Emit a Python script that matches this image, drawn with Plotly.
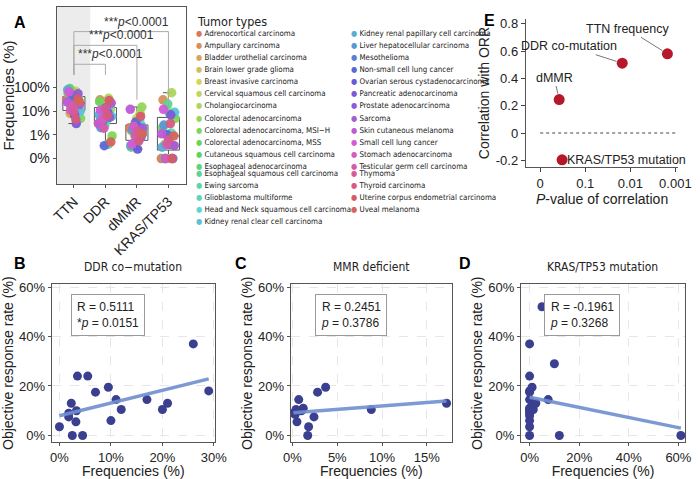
import numpy as np
import plotly.graph_objects as go
import colorsys

# ---- Panel A data (percent frequencies per tumor type) ----
tumor_types = [
    'Adrenocortical carcinoma', 'Ampullary carcinoma', 'Bladder urothelial carcinoma',
    'Brain lower grade glioma', 'Breast invasive carcinoma', 'Cervical squamous cell carcinoma',
    'Cholangiocarcinoma', 'Colorectal adenocarcinoma', 'Colorectal adenocarcinoma, MSI\u2212H',
    'Colorectal adenocarcinoma, MSS', 'Cutaneous squamous cell carcinoma', 'Esophageal adenocarcinoma',
    'Esophageal squamous cell carcinoma', 'Ewing sarcoma', 'Glioblastoma multiforme',
    'Head and Neck squamous cell carcinoma', 'Kidney renal clear cell carcinoma',
    'Kidney renal papillary cell carcinoma', 'Liver hepatocellular carcinoma', 'Mesothelioma',
    'Non-small cell lung cancer', 'Ovarian serous cystadenocarcinoma', 'Pancreatic adenocarcinoma',
    'Prostate adenocarcinoma', 'Sarcoma', 'Skin cutaneous melanoma', 'Small cell lung cancer',
    'Stomach adenocarcinoma', 'Testicular germ cell carcinoma', 'Thymoma', 'Thyroid carcinoma',
    'Uterine corpus endometrial carcinoma', 'Uveal melanoma']
groups = ['TTN', 'DDR', 'dMMR', 'KRAS/TP53']
freq_ttn = [30, 50, 8, 15, 20, 70, 25, 12, 5, 60, 90, 40, 18, 22, 6, 35, 10, 80, 28, 14, 45, 7, 3, 55,
            19, 24, 65, 11, 16, 9, 4.5, 33, 26]
freq_ddr = [3, 30, 8, 15, 6, 20, 35, 12, 0.9, 25, 5, 10, 2.5, 4, 0.4, 18, 6, 7, 2, 3.5, 0.35, 14, 9,
            5.5, 22, 3, 11, 4.5, 1.9, 13, 6.5, 28, 0.5]
freq_dmmr = [2, 1.5, 0.4, 3, 5, 0.6, 8, 15, 1.8, 0.3, 2.2, 1, 0.5, 0.7, 4, 2.5, 1.2, 0.35, 1.7, 0.45,
             3.5, 0.25, 2, 0.8, 1.9, 12, 0.4, 2.3, 0.9, 1.4, 0.55, 6, 1.1]
freq_kras = [0, 30, 0.4, 1, 10, 0, 60, 0.35, 5, 2, 0, 0.4, 20, 8, 1.2, 0, 9, 0.3, 2.6, 0, 1, 0.4, 7,
             0, 0.35, 1.1, 12, 0, 0.4, 0.6, 3, 0, 0.9]
freq_ticks = ['0%', '1%', '10%', '100%']

# ---- Panel B-D data: (frequency %, ORR %) ----
ddr_x = [0, 1.8, 1.8, 2.3, 2.5, 3.2, 3.3, 3.5, 4.5, 5.5, 7, 9.5, 10, 11, 12, 17, 20, 21, 26, 29]
ddr_y = [3.5, 7.5, 9, 13, 0, 5.5, 10, 24, 0, 24, 17.5, 19.5, 6, 14.5, 10.5, 14.5, 10.5, 13, 37, 18]
mmr_x = [0.1, 0.3, 0.4, 0.5, 0.7, 1.0, 1.2, 1.7, 1.8, 2.4, 2.8, 3.7, 8.8, 17.2]
mmr_y = [9, 8.5, 10.5, 5.5, 14.5, 10, 11, 0, 3.5, 7.5, 17.5, 19.5, 10.5, 13]
kras_x = [0, 0, 0, 0, 0, 0, 0, 0, 0, 0, 0, 0, 0, 1, 1, 1.5, 2.5, 5, 7.5, 10, 12, 61]
kras_y = [0, 3.5, 6, 8, 9, 10, 10.5, 11, 14.5, 17.5, 18, 24, 37, 19.5, 12, 10.5, 13, 52, 14.5, 29, 0, 0]

# ---- Panel E data ----
e_labels = ['TTN frequency', 'DDR co-mutation', 'dMMR', 'KRAS/TP53 mutation']
e_pval = [0.0015, 0.0151, 0.3786, 0.3268]
e_corr = [0.58, 0.5111, 0.2451, -0.1961]

FONT = 'Liberation Sans'
NARROW = 'Liberation Sans Narrow, DejaVu Sans Condensed, Liberation Sans'
dot = '#3b3f8f'
line_c = '#6f8fd0'

n = len(tumor_types)
colors = []
for i in range(n):
    h = (15 + 360 * i / n) % 360 / 360
    r, g, b = colorsys.hls_to_rgb(h, 0.6, 0.6)
    colors.append('rgb(%d,%d,%d)' % (r * 255, g * 255, b * 255))


def tr(v):
    return np.log10(v) if v > 0 else -1.0


def px(x0, x1):
    return [x0 / 700, x1 / 700]


def py(top, bot):
    return [1 - bot / 479, 1 - top / 479]


fig = go.Figure()

# Panel A boxes + jittered points
all_freqs = [freq_ttn, freq_ddr, freq_dmmr, freq_kras]
for gi, (g, vals) in enumerate(zip(groups, all_freqs)):
    tv = [tr(v) for v in vals]
    fig.add_trace(go.Box(x=[gi] * len(tv), y=tv, width=0.7, fillcolor='white',
                         line=dict(color='#555', width=1), boxpoints=False,
                         xaxis='x', yaxis='y', showlegend=False))
for gi, vals in enumerate(all_freqs):
    jit = [gi + (((i * 37) % n) / n - 0.5) * 0.45 for i in range(n)]
    fig.add_trace(go.Scatter(x=jit, y=[tr(v) for v in vals], mode='markers',
                             marker=dict(color=colors, size=9.5, opacity=0.95),
                             xaxis='x', yaxis='y', showlegend=False))

shapes = [dict(type='rect', xref='x', yref='y', x0=-0.55, x1=0.52, y0=-2.08, y1=5.4,
               fillcolor='#ececec', line_width=0, layer='below')]
brackets = [(1, 2.98, 2.53), (2, 3.78, 1.48), (3, 4.36, 1.36)]
annotations = []
lab_x = [0.06, 0.43, 0.89]
for (gx, ylev, ybot), lx in zip(brackets, lab_x):
    for x0, y0, x1, y1 in [(0, 2.53, 0, ylev), (0, ylev, gx, ylev), (gx, ylev, gx, ybot)]:
        shapes.append(dict(type='line', xref='x', yref='y', x0=x0, y0=y0, x1=x1, y1=y1,
                           line=dict(color='#aaa', width=1)))
    annotations.append(dict(x=lx, y=ylev, xref='x', yref='y', text='***<i>p</i><0.0001',
                            showarrow=False, xanchor='left', yanchor='bottom', yshift=1,
                            font=dict(size=12, color='#333')))

# Legend for tumor types
annotations.append(dict(x=192 / 700, y=1 - 8 / 479, xref='paper', yref='paper',
                        text='Tumor types', showarrow=False, xanchor='left',
                        font=dict(size=12.5, color='#222', family=NARROW)))
for i, name in enumerate(tumor_types):
    col = 0 if i < 17 else 1
    row = i if i < 17 else i - 17
    xx = (192 if col == 0 else 352) / 700
    yy = 1 - (24 + row * 12.25) / 479
    annotations.append(dict(x=xx, y=yy, xref='paper', yref='paper', showarrow=False,
                            xanchor='left', borderpad=0,
                            text='<span style="color:%s">\u25CF</span> %s' % (colors[i], name),
                            font=dict(size=7.9, color='#222', family=NARROW)))

# Panels B-D
panels = [('x2', 'y2', ddr_x, ddr_y, 'R = 0.5111<br>*<i>p</i> = 0.0151'),
          ('x3', 'y3', mmr_x, mmr_y, 'R = 0.2451<br><i>p</i> = 0.3786'),
          ('x4', 'y4', kras_x, kras_y, 'R = -0.1961<br><i>p</i> = 0.3268')]
box_pos = [(0.092, 1 - 293 / 479), (0.452, 1 - 293 / 479), (0.788, 1 - 293 / 479)]
for (xa, ya, xs, ys, stat), (bx, by) in zip(panels, box_pos):
    fig.add_trace(go.Scatter(x=xs, y=ys, mode='markers', marker=dict(color=dot, size=9),
                             xaxis=xa, yaxis=ya, showlegend=False))
    k, c = np.polyfit(xs, ys, 1)
    lx = np.array([min(xs), max(xs)])
    fig.add_trace(go.Scatter(x=lx, y=k * lx + c, mode='lines', line=dict(color=line_c, width=3.5),
                             opacity=0.9, xaxis=xa, yaxis=ya, showlegend=False))
    annotations.append(dict(x=bx, y=by, xref='paper', yref='paper', text=stat, showarrow=False,
                            xanchor='left', yanchor='top', align='left', bordercolor='#999',
                            borderwidth=1, borderpad=5, bgcolor='white',
                            font=dict(size=12, color='#222')))

title_pos = [(129, 'DDR co\u2212mutation'), (374, 'MMR deficient'), (612, 'KRAS/TP53 mutation')]
for tx, t in title_pos:
    annotations.append(dict(x=tx / 700, y=1 - 266 / 479, xref='paper', yref='paper', text=t,
                            xanchor='center', showarrow=False,
                            font=dict(size=12, color='#222', family=NARROW)))

# Panel E
fig.add_trace(go.Scatter(x=[-np.log10(p) for p in e_pval], y=e_corr, mode='markers',
                         marker=dict(color='#b5182b', size=11), xaxis='x5', yaxis='y5',
                         showlegend=False))
shapes.append(dict(type='line', xref='x5', yref='y5', x0=0, x1=3.0, y0=0, y1=0,
                   line=dict(color='#444', width=1, dash='dot')))
e_off = [(-40, -25), (-53, -17), (-5, -22), None]
for lab, p, r, off in zip(e_labels, e_pval, e_corr, e_off):
    if off is None:
        annotations.append(dict(x=-np.log10(p), y=r, xref='x5', yref='y5', text=lab, showarrow=False,
                                xanchor='left', xshift=3, font=dict(size=12.5, color='#222')))
    else:
        annotations.append(dict(x=-np.log10(p), y=r, xref='x5', yref='y5', text=lab, showarrow=True,
                                arrowhead=0, arrowcolor='#777', arrowwidth=1, ax=off[0], ay=off[1],
                                standoff=6, font=dict(size=12.5, color='#222')))

for letter, lx, ly in [('A', 4, 8), ('B', 4, 262), ('C', 232, 262), ('D', 462, 262), ('E', 488, 6)]:
    annotations.append(dict(x=lx / 700, y=1 - ly / 479, xref='paper', yref='paper', text='<b>%s</b>' % letter,
                            showarrow=False, xanchor='left', font=dict(size=16, color='black', family='Liberation Sans')))

frame = dict(showline=True, linecolor='#555', linewidth=1, mirror=True, ticks='outside',
             ticklen=3, tickcolor='#555', zeroline=False)
grid = dict(showgrid=True, gridcolor='#e6e6e6', griddash='dash')
yscat = dict(range=[-2.8, 61.2], tickvals=[0, 20, 40, 60], ticktext=['0%', '20%', '40%', '60%'],
             title=dict(text='Objective response rate (%)', font=dict(size=14), standoff=2),
             tickfont=dict(size=13), **frame, **grid)

fig.update_layout(
    width=700, height=479, margin=dict(l=0, r=0, t=0, b=0),
    plot_bgcolor='white', paper_bgcolor='white',
    font=dict(family=FONT, color='#222'),
    shapes=shapes, annotations=annotations,
    xaxis=dict(domain=px(50, 183), range=[-0.55, 3.55], tickvals=[0, 1, 2, 3], ticktext=groups,
               tickangle=-45, tickfont=dict(size=14), showgrid=False, **frame),
    yaxis=dict(domain=py(3, 182), range=[-2.08, 5.4], tickvals=[-1, 0, 1, 2], ticktext=freq_ticks,
               tickfont=dict(size=14), showgrid=False,
               title=dict(text='Frequencies (%)', font=dict(size=15), standoff=2), **frame),
    xaxis2=dict(domain=px(45, 213), range=[-1.5, 30.2], tickvals=[0, 10, 20, 30],
                ticktext=['0%', '10%', '20%', '30%'], tickfont=dict(size=13), anchor='y2',
                title=dict(text='Frequencies (%)', font=dict(size=14), standoff=2), **frame, **grid),
    yaxis2=dict(domain=py(283, 443), anchor='x2', **yscat),
    xaxis3=dict(domain=px(291, 457), range=[-0.2, 17.8], tickvals=[0, 5, 10, 15],
                ticktext=['0%', '5%', '10%', '15%'], tickfont=dict(size=13), anchor='y3',
                title=dict(text='Frequencies (%)', font=dict(size=14), standoff=2), **frame, **grid),
    yaxis3=dict(domain=py(283, 443), anchor='x3', **yscat),
    xaxis4=dict(domain=px(528, 697), range=[-3.5, 62.7], tickvals=[0, 20, 40, 60],
                ticktext=['0%', '20%', '40%', '60%'], tickfont=dict(size=13), anchor='y4',
                title=dict(text='Frequencies (%)', font=dict(size=14), standoff=2), **frame, **grid),
    yaxis4=dict(domain=py(283, 443), anchor='x4', **yscat),
    xaxis5=dict(domain=px(533, 690), range=[-0.32, 3.065], tickvals=[0, 1, 2, 3],
                ticktext=['0', '0.1', '0.01', '0.001'], tickfont=dict(size=13), anchor='y5',
                showline=True, linecolor='#555', ticks='outside', ticklen=4, showgrid=False, zeroline=False,
                title=dict(text='<i>P</i>-value of correlation', font=dict(size=14), standoff=2)),
    yaxis5=dict(domain=py(15, 165), range=[-0.251, 0.836], tickvals=[-0.2, 0, 0.2, 0.4, 0.6, 0.8],
                ticktext=['-0.2', '0', '0.2', '0.4', '0.6', '0.8'], tickfont=dict(size=13), anchor='x5',
                showline=True, linecolor='#555', ticks='outside', ticklen=4, showgrid=False, zeroline=False,
                title=dict(text='Correlation with ORR', font=dict(size=14), standoff=2)),
)

fig.write_html('out.html', config={'displayModeBar': False},
               post_script="document.body.style.margin='0px';")
